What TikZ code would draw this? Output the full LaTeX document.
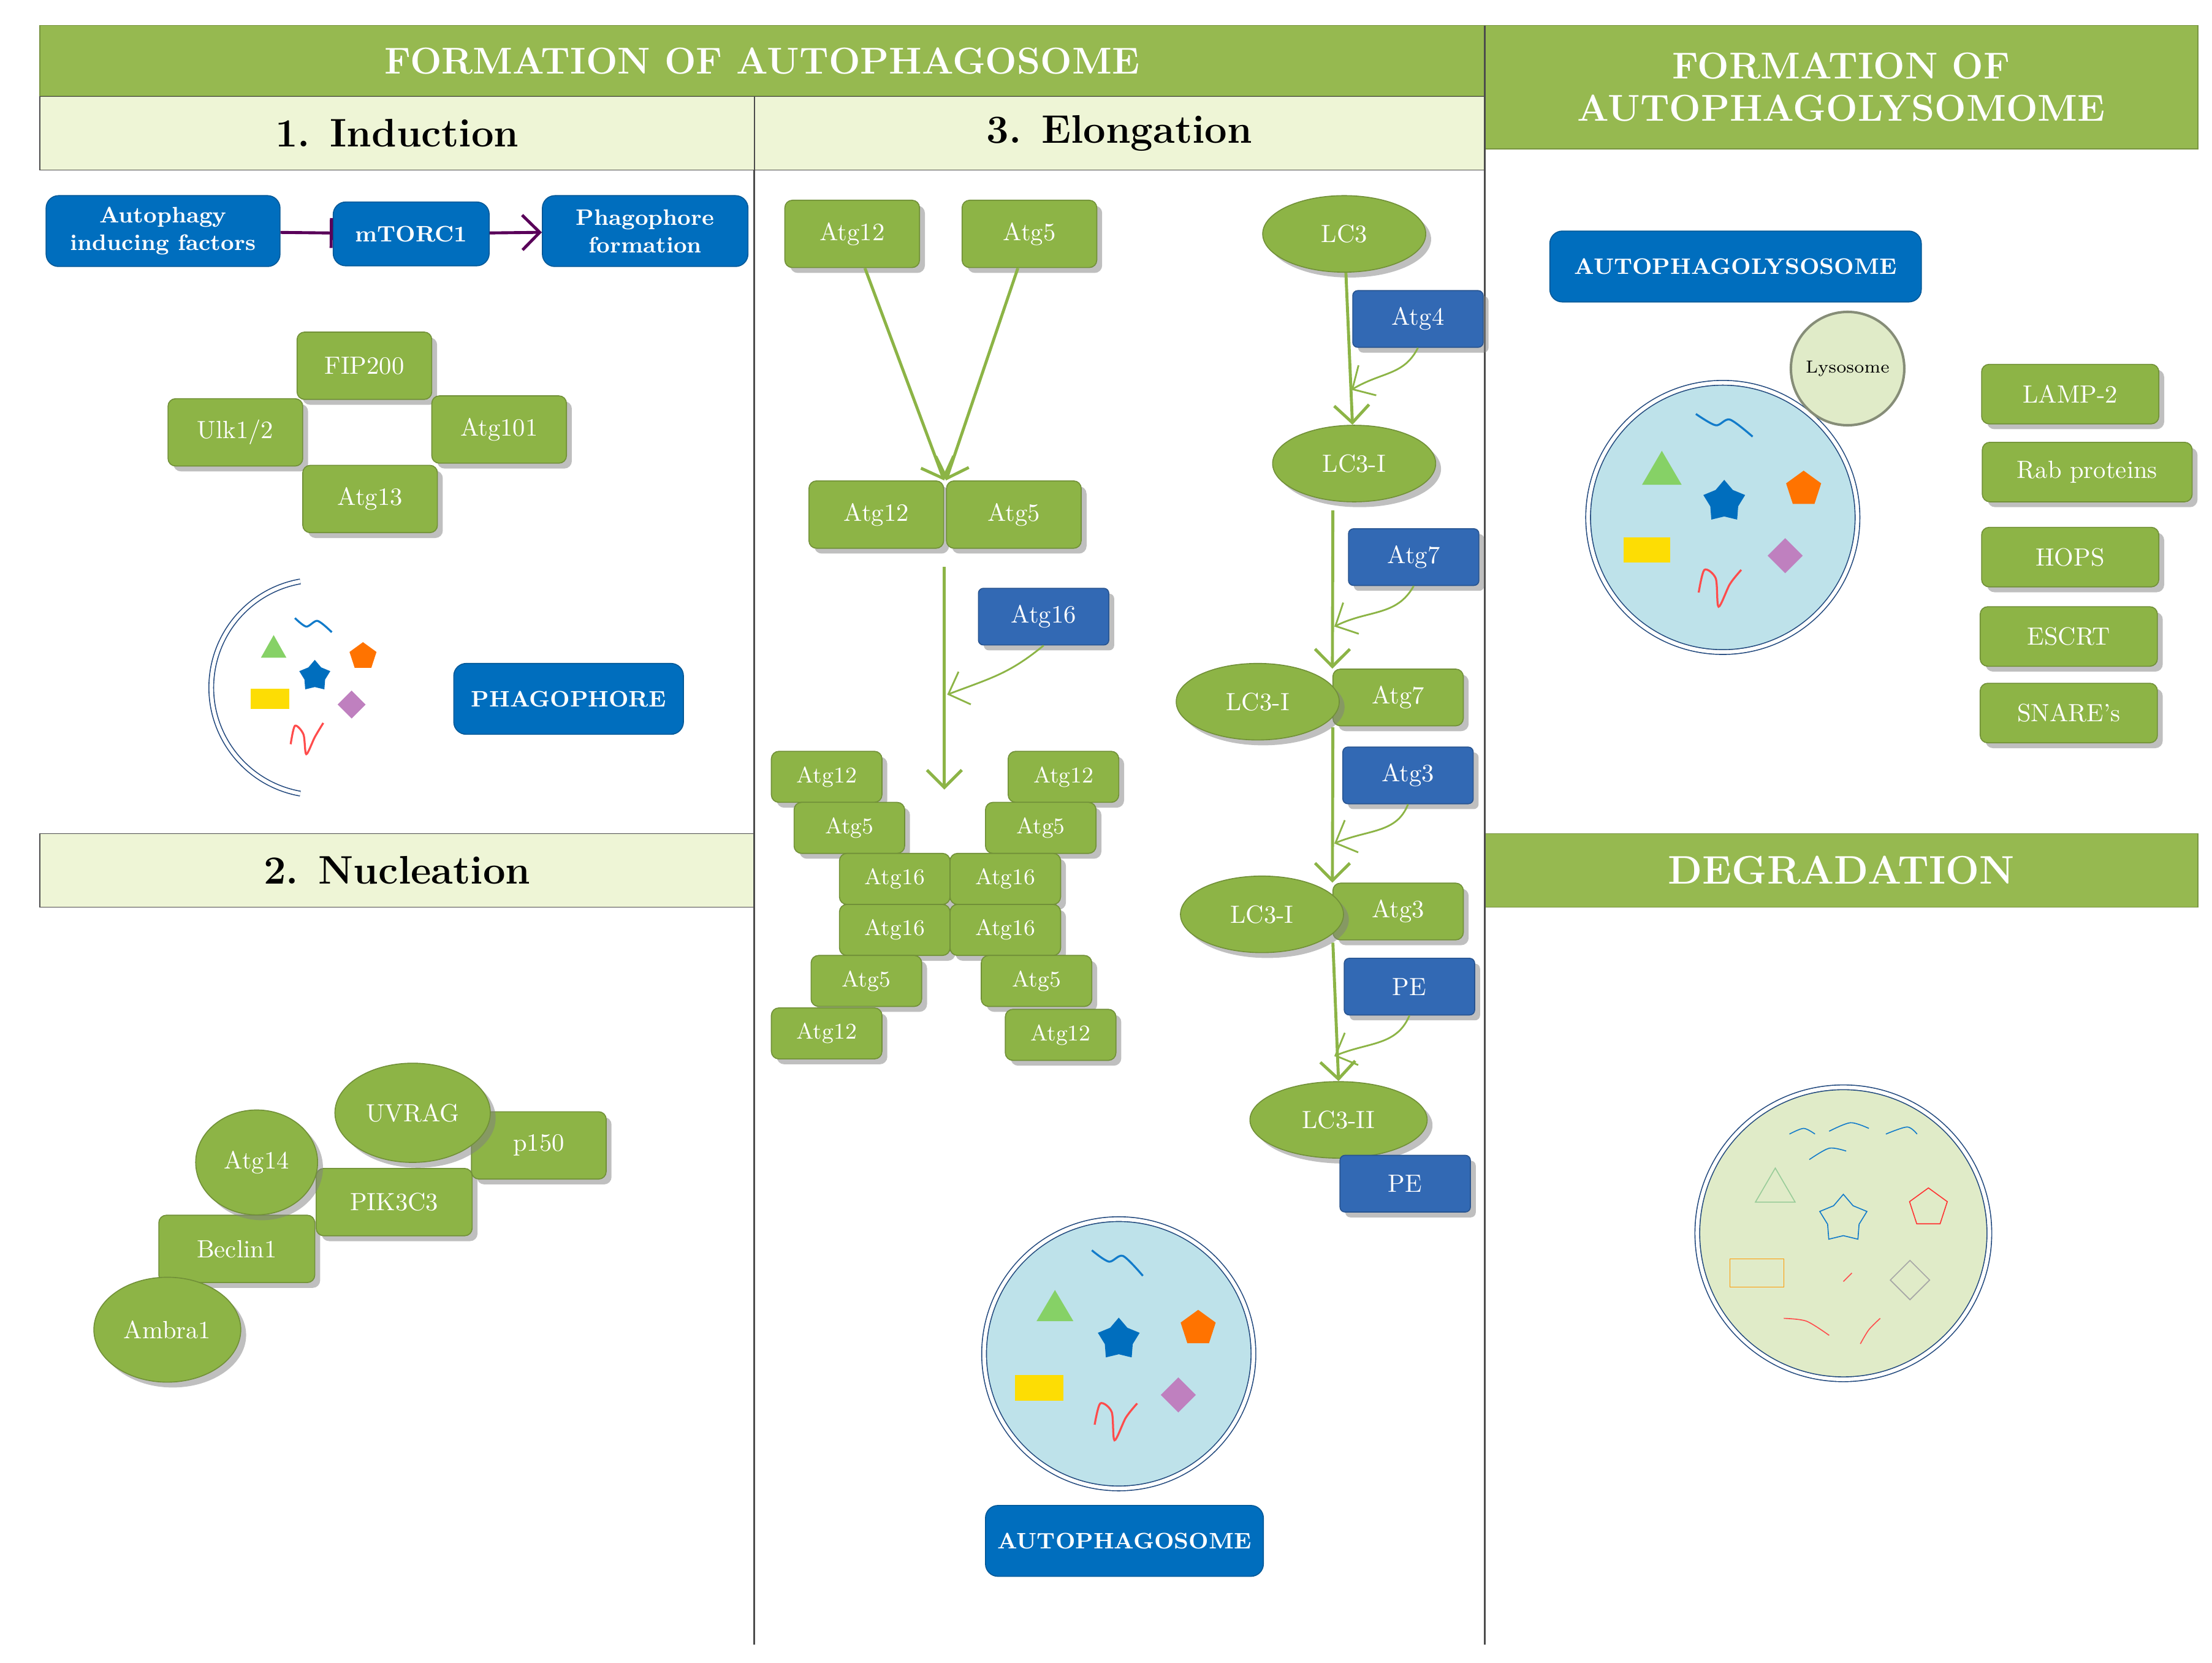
\documentclass[tikz,border=0pt]{standalone}
\usepackage{tikz}
\usetikzlibrary{arrows.meta, shapes.geometric, shadows}
\definecolor{boxgreen}{RGB}{141,180,70}
\definecolor{hdrgreen}{RGB}{150,185,80}
\definecolor{lightgreen}{RGB}{238,245,214}
\definecolor{boxblue}{RGB}{0,110,190}
\definecolor{steelblue}{RGB}{50,105,180}
\definecolor{cellblue}{RGB}{190,226,234}
\definecolor{lysgreen}{RGB}{224,235,200}
\definecolor{arrgreen}{RGB}{140,180,70}
\tikzset{
  gbox/.style={draw=boxgreen!80!black, fill=boxgreen, rounded corners=3pt, text=white, minimum width=1.9cm, minimum height=0.95cm, drop shadow, font=\normalsize},
  sbox/.style={gbox, minimum width=1.56cm, minimum height=0.72cm, font=\small},
  bbox/.style={draw=boxblue!80!black, fill=boxblue, rounded corners=5pt, text=white, font=\small\bfseries, align=center, minimum height=1cm},
  pbox/.style={draw=steelblue!80!black, fill=steelblue, rounded corners=2pt, text=white, minimum width=1.84cm, minimum height=0.8cm, drop shadow},
  gell/.style={ellipse, draw=boxgreen!80!black, fill=boxgreen, text=white, minimum width=2.3cm, minimum height=1.08cm, drop shadow},
  gcirc/.style={ellipse, draw=boxgreen!80!black, fill=boxgreen, text=white, minimum width=1.72cm, minimum height=1.48cm, drop shadow},
  hdr/.style={draw=hdrgreen!80!black, fill=hdrgreen, text=white, font=\fontsize{15}{17}\selectfont\bfseries, align=center},
  sub/.style={draw=black!70, fill=lightgreen, text=black, font=\fontsize{16}{18}\selectfont\bfseries},
  arr/.style={arrgreen, line width=1.2pt, -{Straight Barb[length=7pt]}},
  cell/.style={draw=steelblue!70!black, double=white, double distance=1.5pt, fill=cellblue}
}
\begin{document}
\begin{tikzpicture}[x=0.02cm, y=-0.02cm]
  \useasboundingbox (0,0) rectangle (1560,1173);
  % headers
  \node[hdr, minimum width=20.38cm, minimum height=1cm] (hauto) at (537.5,43) {FORMATION OF AUTOPHAGOSOME};
  \node[hdr, minimum width=10.06cm, minimum height=1.74cm] (hlys) at (1298.5,61.5) {FORMATION OF\\AUTOPHAGOLYSOMOME};
  \node[sub, minimum width=10.08cm, minimum height=1.04cm] (hind) at (280,94) {1. Induction};
  \node[sub, minimum width=10.3cm, minimum height=1.04cm] (helo) at (789.5,94) {3. Elongation};
  \node[sub, minimum width=10.08cm, minimum height=1.04cm] (hnuc) at (280,614) {2. Nucleation};
  \node[hdr, minimum width=10.06cm, minimum height=1.04cm, font=\fontsize{16}{18}\selectfont\bfseries] (hdeg) at (1298.5,614) {DEGRADATION};
  % separators
  \draw[black!70, line width=0.8pt] (532,120) -- (532,1160);
  \draw[black!70, line width=0.8pt] (1047,18) -- (1047,1160);

  % 1. Induction
  \node[bbox, minimum width=3.3cm] (factors) at (115,163) {Autophagy\\inducing factors};
  \node[bbox, minimum width=2.2cm, minimum height=0.9cm] (mtor) at (290,165) {mTORC1};
  \node[bbox, minimum width=2.9cm] (phform) at (455,163) {Phagophore\\formation};
  \draw[violet!70!black, line width=1.2pt, -{Bar[width=12pt]}] (factors) -- (mtor);
  \draw[violet!70!black, line width=1.2pt, -{Straight Barb[length=7pt]}] (mtor) -- (phform);
  \node[gbox] (fip) at (257,258) {FIP200};
  \node[gbox] (ulk) at (166,305) {Ulk1/2};
  \node[gbox] (atg101) at (352,303) {Atg101};
  \node[gbox] (atg13) at (261,352) {Atg13};
  % phagophore
  \draw[steelblue!70!black, double=white, double distance=1.5pt] (225,485) ++(100:76) arc (100:260:76);
  \fill[green!60!lime!70!black!60] (184,464) -- (202,464) -- (193,448) -- cycle;
  \node[star, star points=5, fill=boxblue, inner sep=0pt, minimum size=0.46cm] (star1) at (222,477) {};
  \node[regular polygon, regular polygon sides=5, fill=orange!90!red, inner sep=0pt, minimum size=0.4cm] (pent1) at (256,463) {};
  \fill[yellow!80!orange] (177,486) rectangle (204,500);
  \node[diamond, fill=violet!50, inner sep=0pt, minimum size=0.4cm] (dia1) at (248,497) {};
  \draw[red!70, line width=0.8pt] plot[smooth] coordinates {(205,525) (208,512) (214,518) (216,532) (222,520) (228,510)};
  \draw[cyan!60!blue, line width=0.8pt] plot[smooth] coordinates {(208,436) (216,442) (224,438) (234,446)};
  \node[bbox, minimum width=3.24cm] (phago) at (401,493) {PHAGOPHORE};

  % 2. Nucleation
  \node[gbox, minimum width=2.2cm] (beclin) at (167,881) {Beclin1};
  \node[gcirc] (ambra) at (118,938) {Ambra1};
  \node[gbox, minimum width=2.2cm] (pik) at (278,848) {PIK3C3};
  \node[gcirc] (atg14) at (181,820) {Atg14};
  \node[gbox] (p150) at (380,808) {p150};
  \node[gcirc, minimum height=1.4cm] (uvrag) at (291,785) {UVRAG};

  % 3. Elongation: Atg12-Atg5-Atg16
  \node[gbox] (a12) at (601,165) {Atg12};
  \node[gbox] (a5) at (726,165) {Atg5};
  \node[gbox] (c12) at (618,363) {Atg12};
  \node[gbox] (c5) at (715,363) {Atg5};
  \draw[arr] (a12) -- (c12.north east);
  \draw[arr] (a5) -- (c5.north west);
  \node[pbox] (a16) at (736,435) {Atg16};
  \coordinate (top16) at (666,400);
  \coordinate (mid16) at (668,490);
  \coordinate (bot16) at (666,557);
  \draw[arr] (top16) -- (bot16);
  \draw[arr, line width=0.7pt] (a16.south) .. controls (712,475) and (700,478) .. (mid16);
  \node[sbox] (l12a) at (583,548) {Atg12};
  \node[sbox] (l5a) at (599,584) {Atg5};
  \node[sbox] (l16a) at (631,620) {Atg16};
  \node[sbox] (l16b) at (631,656) {Atg16};
  \node[sbox] (l5b) at (611,692) {Atg5};
  \node[sbox] (l12b) at (583,729) {Atg12};
  \node[sbox] (r12a) at (750,548) {Atg12};
  \node[sbox] (r5a) at (734,584) {Atg5};
  \node[sbox] (r16a) at (709,620) {Atg16};
  \node[sbox] (r16b) at (709,656) {Atg16};
  \node[sbox] (r5b) at (731,692) {Atg5};
  \node[sbox] (r12b) at (748,730) {Atg12};

  % 3. Elongation: LC3 path
  \node[gell] (lc3) at (948,165) {LC3};
  \node[pbox] (atg4) at (1000,225) {Atg4};
  \node[gell] (lc3i) at (955,327) {LC3-I};
  \coordinate (m4) at (953,275);
  \draw[arr] (lc3) -- (lc3i);
  \draw[arr, line width=0.7pt] (atg4.south) .. controls (990,265) and (975,262) .. (m4);
  \node[pbox] (atg7) at (997,393) {Atg7};
  \node[gbox, minimum width=1.84cm, minimum height=0.8cm] (g7) at (986,492) {Atg7};
  \node[gell] (lc3ia) at (887,495) {LC3-I};
  \coordinate (s7) at (940,360);
  \coordinate (m7) at (941,442);
  \draw[arr] (s7) -- (g7.north west);
  \draw[arr, line width=0.7pt] (atg7.south) .. controls (985,435) and (965,430) .. (m7);
  \node[pbox] (atg3) at (993,547) {Atg3};
  \node[gbox, minimum width=1.84cm, minimum height=0.8cm] (g3) at (986,643) {Atg3};
  \node[gell] (lc3ib) at (890,645) {LC3-I};
  \coordinate (s3) at (940,513);
  \coordinate (m3) at (941,595);
  \draw[arr] (s3) -- (g3.north west);
  \draw[arr, line width=0.7pt] (atg3.south) .. controls (985,588) and (965,585) .. (m3);
  \node[pbox] (pe1) at (994,696) {PE};
  \node[gell, minimum width=2.5cm] (lc3ii) at (944,790) {LC3-II};
  \coordinate (sp) at (940,665);
  \coordinate (mp) at (941,745);
  \draw[arr] (sp) -- (lc3ii.north);
  \draw[arr, line width=0.7pt] (pe1.south) .. controls (985,738) and (965,735) .. (mp);
  \node[pbox] (pe2) at (991,835) {PE};

  % autophagosome
  \node[circle, cell, minimum size=3.8cm] (autoc) at (789,955) {};
  \fill[green!60!lime!70!black!60] (731,932) -- (757,932) -- (744,910) -- cycle;
  \node[star, star points=5, fill=boxblue, inner sep=0pt, minimum size=0.62cm] (star2) at (789,945) {};
  \node[regular polygon, regular polygon sides=5, fill=orange!90!red, inner sep=0pt, minimum size=0.52cm] (pent2) at (845,937) {};
  \fill[yellow!80!orange] (716,970) rectangle (750,988);
  \node[diamond, fill=violet!50, inner sep=0pt, minimum size=0.5cm] (dia2) at (831,984) {};
  \draw[red!70, line width=0.8pt] plot[smooth] coordinates {(772,1005) (776,990) (784,996) (786,1016) (794,1000) (802,990)};
  \draw[cyan!60!blue, line width=0.8pt] plot[smooth] coordinates {(770,882) (782,890) (792,886) (806,900)};
  \node[bbox, minimum width=3.92cm] (autoname) at (793,1087) {AUTOPHAGOSOME};

  % autophagolysosome
  \node[bbox, minimum width=5.24cm] (alys) at (1224,188) {AUTOPHAGOLYSOSOME};
  \node[circle, cell, minimum size=3.8cm] (alc) at (1215,365) {};
  \node[circle, draw=lysgreen!60!black, line width=1pt, fill=lysgreen, minimum size=1.6cm, font=\scriptsize] (lyso) at (1303,260) {Lysosome};
  \fill[green!60!lime!70!black!60] (1158,342) -- (1186,342) -- (1172,318) -- cycle;
  \node[star, star points=5, fill=boxblue, inner sep=0pt, minimum size=0.62cm] (star3) at (1216,354) {};
  \node[regular polygon, regular polygon sides=5, fill=orange!90!red, inner sep=0pt, minimum size=0.52cm] (pent3) at (1272,345) {};
  \fill[yellow!80!orange] (1145,379) rectangle (1178,397);
  \node[diamond, fill=violet!50, inner sep=0pt, minimum size=0.5cm] (dia3) at (1259,392) {};
  \draw[red!70, line width=0.8pt] plot[smooth] coordinates {(1198,418) (1202,402) (1210,408) (1212,428) (1220,412) (1228,402)};
  \draw[cyan!60!blue, line width=0.8pt] plot[smooth] coordinates {(1196,292) (1210,300) (1220,296) (1236,308)};
  \node[gbox, minimum width=2.5cm, minimum height=0.84cm] (lamp) at (1460,278) {LAMP-2};
  \node[gbox, minimum width=2.96cm, minimum height=0.84cm] (rab) at (1472,333) {Rab proteins};
  \node[gbox, minimum width=2.5cm, minimum height=0.84cm] (hops) at (1460,393) {HOPS};
  \node[gbox, minimum width=2.5cm, minimum height=0.84cm] (escrt) at (1459,449) {ESCRT};
  \node[gbox, minimum width=2.5cm, minimum height=0.84cm] (snare) at (1459,503) {SNARE's};

  % degradation
  \node[circle, draw=steelblue!70!black, double=white, double distance=1.5pt, fill=lysgreen, minimum size=4.12cm] (degc) at (1300,870) {};
  \draw[green!50!black!40] (1238,848) -- (1266,848) -- (1252,824) -- cycle;
  \node[star, star points=5, draw=cyan!60!blue, inner sep=0pt, minimum size=0.7cm] (star4) at (1300,860) {};
  \node[regular polygon, regular polygon sides=5, draw=red!80, inner sep=0pt, minimum size=0.56cm] (pent4) at (1360,852) {};
  \draw[orange!80!yellow] (1220,888) rectangle (1258,908);
  \node[diamond, draw=black!35, inner sep=0pt, minimum size=0.56cm] (dia4) at (1347,903) {};
  \draw[cyan!60!blue] plot[smooth] coordinates {(1262,800) (1272,796) (1280,800)};
  \draw[cyan!60!blue] plot[smooth] coordinates {(1290,798) (1305,792) (1318,796)};
  \draw[cyan!60!blue] plot[smooth] coordinates {(1330,800) (1345,795) (1352,800)};
  \draw[cyan!60!blue] plot[smooth] coordinates {(1276,818) (1290,810) (1302,812)};
  \draw[red!70] plot[smooth] coordinates {(1258,930) (1274,932) (1290,942)};
  \draw[red!70] plot[smooth] coordinates {(1312,948) (1318,938) (1326,930)};
  \draw[red!70] (1300,904) -- (1306,898);
\end{tikzpicture}
\end{document}
